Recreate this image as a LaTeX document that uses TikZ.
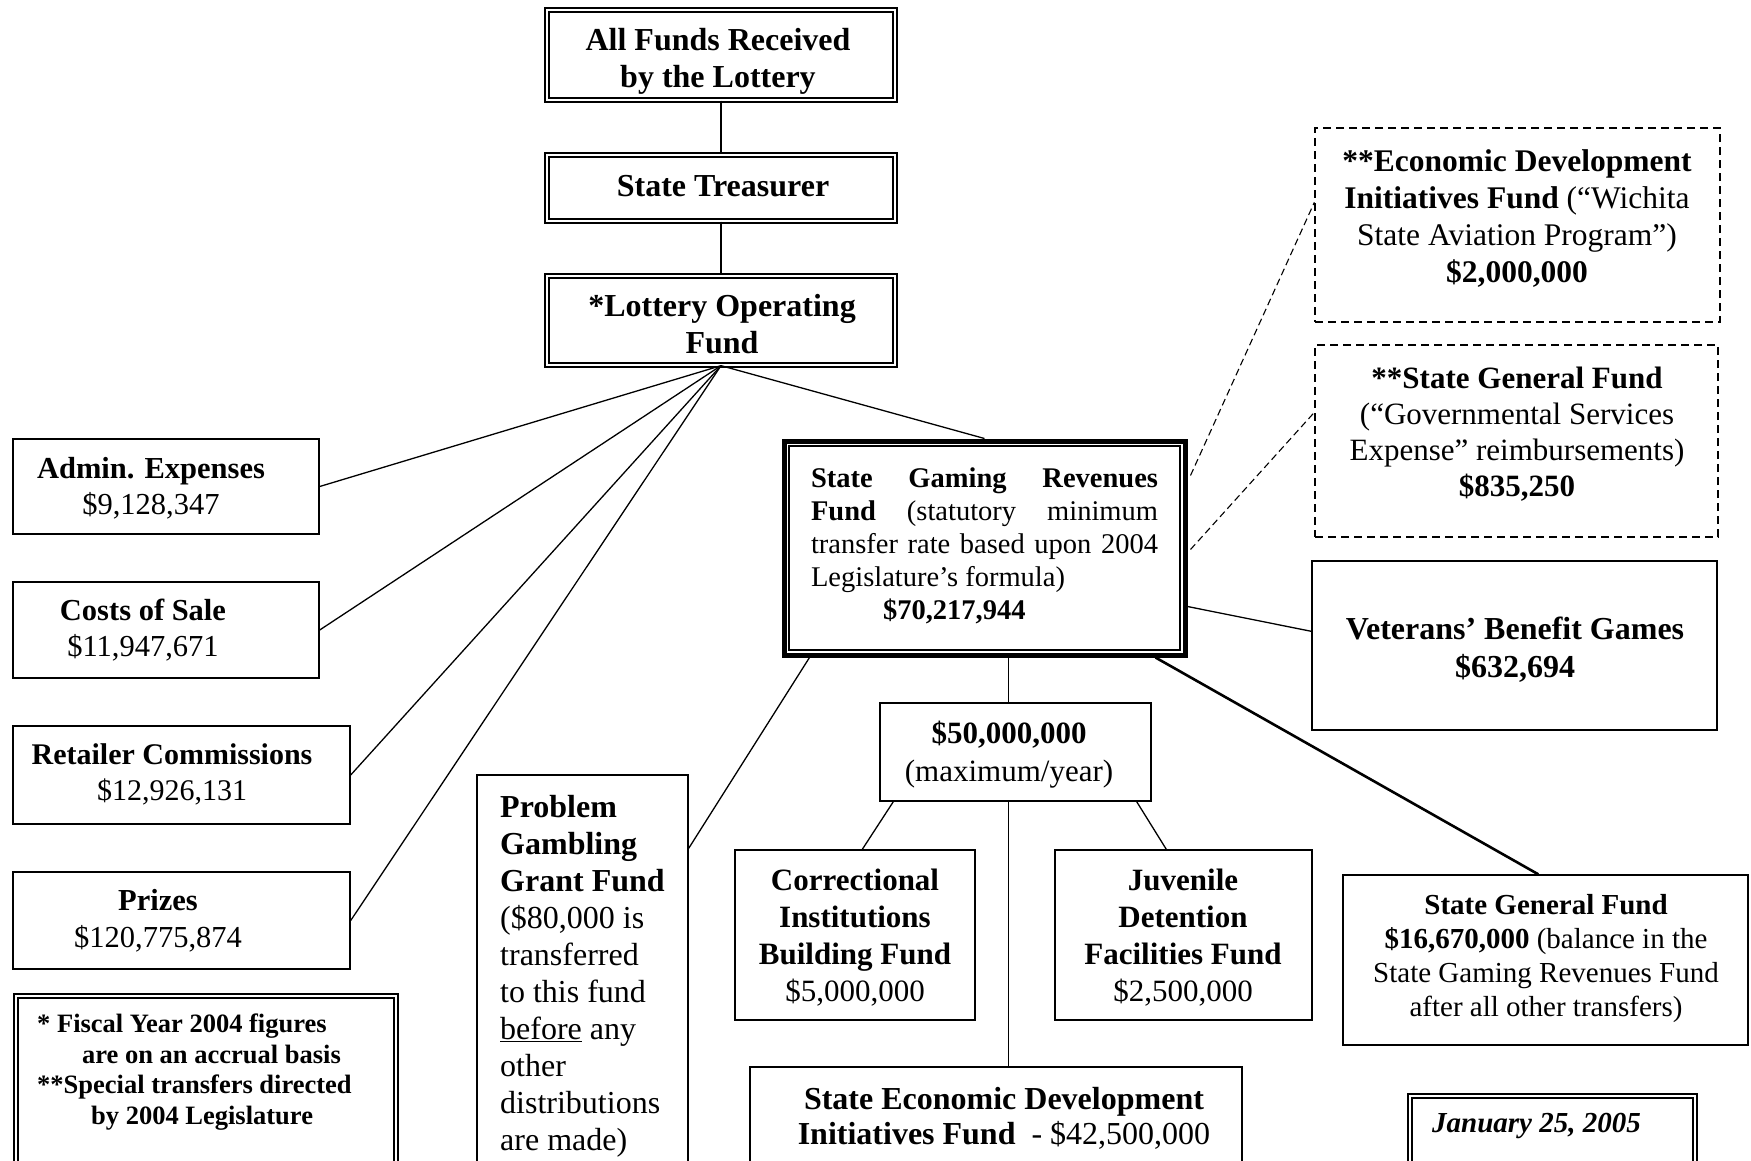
\documentclass[tikz,border=0pt]{standalone}
\usepackage{fontspec}
\setmainfont{Liberation Serif}
\usetikzlibrary{fit}
\newcommand{\setfs}[2]{\fontsize{#1}{#2}\selectfont}
\tikzset{
  box/.style={draw, line width=1.4pt, inner sep=0pt},
  dbox/.style={draw, double, double distance=2.6pt, line width=1.3pt, inner sep=0pt},
  dashbox/.style={draw, line width=1.3pt, dash pattern=on 8pt off 5pt, inner sep=0pt},
  link/.style={line width=1.3pt},
  dlink/.style={line width=1.1pt, dash pattern=on 7pt off 4pt},
  txt/.style={inner sep=0pt, align=center},
}
\begin{document}
\begin{tikzpicture}[x=1pt,y=-1pt]
\useasboundingbox (0,0) rectangle (1751,1160);
\fill[white] (0,0) rectangle (1751,1160);
\clip (0,0) rectangle (1751,1160);

% top chain
\node[dbox, fit={(547,10) (895,100)}] (allfunds) {};
\node[txt, font=\setfs{32}{37}\bfseries] (allfundstxt) at (718,61) {All Funds Received\\by the Lottery};
\node[dbox, fit={(547,155) (895,221)}] (treasurer) {};
\node[txt, font=\setfs{32}{37}\bfseries] (treasurertxt) at (723,186) {State Treasurer};
\node[dbox, fit={(547,276) (895,365)}] (lottery) {};
\node[txt, font=\setfs{32}{37}\bfseries] (lotterytxt) at (722,324) {*Lottery Operating\\Fund};

% gaming fund
\node[draw, line width=5pt, inner sep=0pt, fit={(784,441) (1185,655)}] (gaming) {};
\draw[line width=1.3pt] ([shift={(7.5,7.5)}]gaming.north west) rectangle ([shift={(-7.5,-7.5)}]gaming.south east);
\node[txt, align=left, font=\setfs{28.5}{33}] (gamingtxt) at (984.5,546) {%
\makebox[347pt][s]{\textbf{State Gaming Revenues}}\\
\makebox[347pt][s]{\textbf{Fund} (statutory minimum}\\
\makebox[347pt][s]{transfer rate based upon 2004}\\
Legislature’s formula)\\
\hspace*{72pt}\textbf{\$70,217,944}};

% left boxes
\node[box, fit={(13,439) (319,534)}] (admin) {};
\node[txt, font=\setfs{30.5}{36}] (admintxt) at (151,488) {\textbf{Admin. Expenses}\\\$9,128,347};
\node[box, fit={(13,582) (319,678)}] (costs) {};
\node[txt, font=\setfs{30.5}{36}] (coststxt) at (143,630) {\textbf{Costs of Sale}\\\$11,947,671};
\node[box, fit={(13,726) (350,824)}] (retailer) {};
\node[txt, font=\setfs{30}{36}] (retailertxt) at (172,774) {\textbf{Retailer Commissions}\\\$12,926,131};
\node[box, fit={(13,872) (350,969)}] (prizes) {};
\node[txt, font=\setfs{30.5}{37}] (prizestxt) at (158,921) {\textbf{Prizes}\\\$120,775,874};

% footnote
\node[dbox, fit={(16,996) (396,1180)}] (notes) {};
\node[txt, align=left, anchor=north west, font=\setfs{26.5}{30.5}\bfseries] (notestxt) at (37,1014) {* Fiscal Year 2004 figures\\\hspace*{45pt}are on an accrual basis\\**Special transfers directed\\\hspace*{54pt}by 2004 Legislature};

% problem gambling
\node[box, fit={(477,775) (688,1180)}] (problem) {};
\node[txt, align=left, anchor=north west, font=\setfs{32}{37}] (problemtxt) at (500,795) {\textbf{Problem}\\\textbf{Gambling}\\\textbf{Grant Fund}\\(\$80,000 is\\transferred\\to this fund\\\underline{before} any\\other\\distributions\\are made)};

% 50 million and below
\node[box, fit={(880,703) (1151,801)}] (fifty) {};
\node[txt, font=\setfs{31}{38}] (fiftytxt) at (1009,755) {\textbf{\$50,000,000}\\(maximum/year)};
\node[box, fit={(735,850) (975,1020)}] (correctional) {};
\node[txt, font=\setfs{31}{37}] (correctionaltxt) at (855,938) {\textbf{Correctional}\\\textbf{Institutions}\\\textbf{Building Fund}\\\$5,000,000};
\node[box, fit={(1055,850) (1312,1020)}] (juvenile) {};
\node[txt, font=\setfs{31}{37}] (juveniletxt) at (1183,938) {\textbf{Juvenile}\\\textbf{Detention}\\\textbf{Facilities Fund}\\\$2,500,000};
\node[box, fit={(750,1067) (1242,1180)}] (econbottom) {};
\node[txt, anchor=north, font=\setfs{32}{35}] (econbottomtxt) at (1004,1087) {\textbf{State Economic Development}\\\textbf{Initiatives Fund}\ \ - \$42,500,000};

% right side
\node[box, fit={(1312,561) (1717,730)}] (veterans) {};
\node[txt, font=\setfs{32}{38}\bfseries] (veteranstxt) at (1515,650) {Veterans’ Benefit Games\\\$632,694};
\node[box, fit={(1343,875) (1748,1045)}] (sgf) {};
\node[txt, font=\setfs{29}{34}] (sgftxt) at (1546,959) {\textbf{State General Fund}\\\textbf{\$16,670,000} (balance in the\\State Gaming Revenues Fund\\after all other transfers)};
\node[dashbox, fit={(1315,128) (1720,322)}] (econdev) {};
\node[txt, font=\setfs{31.5}{37}] (econdevtxt) at (1517,219) {\textbf{**Economic Development}\\\textbf{Initiatives Fund} (“Wichita\\State Aviation Program”)\\\textbf{\$2,000,000}};
\node[dashbox, fit={(1315,345) (1718,537)}] (sgfdashed) {};
\node[txt, font=\setfs{31}{36}] (sgfdashedtxt) at (1517,434) {\textbf{**State General Fund}\\(“Governmental Services\\Expense” reimbursements)\\\textbf{\$835,250}};

% date
\node[dbox, fit={(1410,1096) (1695,1180)}] (january) {};
\node[txt, anchor=west, font=\setfs{29}{34}\bfseries\itshape] (januarytxt) at (1432,1126) {January 25, 2005};

% connectors
\draw[link] (allfunds) -- (treasurer);
\draw[link] (treasurer) -- (lottery);
\draw[link] (lottery.south) -- (admin.east);
\draw[link] (lottery.south) -- (costs.east);
\draw[link] (lottery.south) -- (retailer.east);
\draw[link] (lottery.south) -- (prizes.east);
\draw[link] (lottery.south) -- (gaming.north);
\draw[link] ([shift={(28,0)}]gaming.south west) -- ([shift={(0,74)}]problem.north east);
\coordinate (f1) at ([xshift=-7pt]fifty.north);
\coordinate (f2) at ([xshift=-7pt]fifty.south);
\draw[link] (f1) -- (f1 |- gaming.south);
\draw[link] (f2) -- (f2 |- econbottom.north);
\draw[link] ([shift={(14,0)}]fifty.south west) -- ([shift={(128,0)}]correctional.north west);
\draw[link] ([shift={(-15,0)}]fifty.south east) -- ([shift={(112,0)}]juvenile.north west);
\draw[link, line width=2.6pt] ([shift={(-32,0)}]gaming.south east) -- ([shift={(196,0)}]sgf.north west);
\draw[link] ([shift={(0,168)}]gaming.north east) -- ([shift={(0,71)}]veterans.north west);
\draw[dlink] ([shift={(3,37)}]gaming.north east) -- ([shift={(0,75)}]econdev.north west);
\draw[dlink] ([shift={(3,111)}]gaming.north east) -- ([shift={(0,68)}]sgfdashed.north west);
\end{tikzpicture}
\end{document}
